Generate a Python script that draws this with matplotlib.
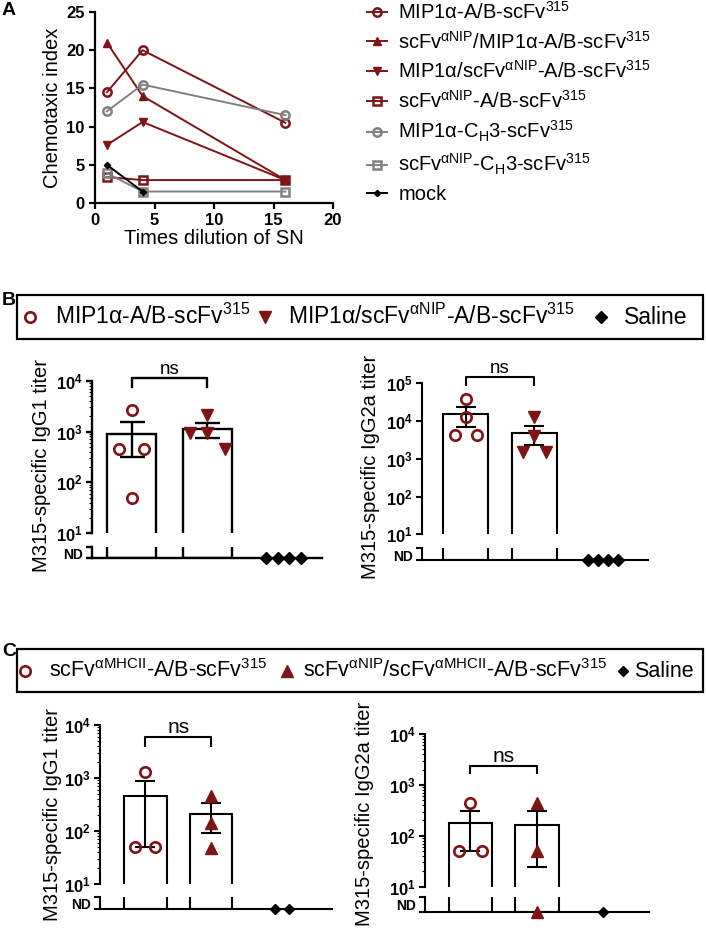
import numpy as np
import matplotlib
matplotlib.use('Agg')
import matplotlib.pyplot as plt
from matplotlib.lines import Line2D
from matplotlib.patches import Rectangle
from matplotlib.ticker import FixedLocator, FixedFormatter, LogLocator, NullFormatter
from matplotlib.transforms import ScaledTranslation

plt.rcParams['font.family'] = ['Liberation Sans', 'DejaVu Sans']
plt.rcParams['mathtext.fontset'] = 'custom'
plt.rcParams['mathtext.rm'] = 'Liberation Sans'
plt.rcParams['mathtext.it'] = 'Liberation Sans:italic'
plt.rcParams['mathtext.bf'] = 'Liberation Sans:bold'

# ---------------- data ----------------
# Panel A: chemotaxis
dilution = [1, 4, 16]
mip_ab = [14.5, 20.0, 10.5]
nip_mip_ab = [21.0, 14.0, 3.0]
mip_nip_ab = [7.6, 10.6, 3.0]
nip_ab = [3.4, 3.0, 3.0]
mip_ch3 = [12.0, 15.5, 11.5]
nip_ch3 = [3.9, 1.5, 1.5]
mock_dilution = [1, 4]
mock = [5.0, 1.5]
a_labels = [r'MIP1α-A/B-scFv$^{315}$',
            r'scFv$^{\mathrm{αNIP}}$/MIP1α-A/B-scFv$^{315}$',
            r'MIP1α/scFv$^{\mathrm{αNIP}}$-A/B-scFv$^{315}$',
            r'scFv$^{\mathrm{αNIP}}$-A/B-scFv$^{315}$',
            r'MIP1α-C$_{\mathrm{H}}$3-scFv$^{315}$',
            r'scFv$^{\mathrm{αNIP}}$-C$_{\mathrm{H}}$3-scFv$^{315}$',
            'mock']
a_xticks = [0, 5, 10, 15, 20]
a_yticks = [0, 5, 10, 15, 20, 25]

# Panel B (0 = not detected, ND)
b_groups = [r'MIP1α-A/B-scFv$^{315}$',
            r'MIP1α/scFv$^{\mathrm{αNIP}}$-A/B-scFv$^{315}$',
            'Saline']
b_igg1_mip = [2700, 450, 450, 50]
b_igg1_mipnip = [2100, 950, 950, 450]
b_igg1_saline = [0, 0, 0, 0]
b_igg2a_mip = [39000, 13000, 4200, 4200]
b_igg2a_mipnip = [12500, 4000, 1500, 1500]
b_igg2a_saline = [0, 0, 0, 0]

# Panel C (0 = not detected, ND)
c_groups = [r'scFv$^{\mathrm{αMHCII}}$-A/B-scFv$^{315}$',
            r'scFv$^{\mathrm{αNIP}}$/scFv$^{\mathrm{αMHCII}}$-A/B-scFv$^{315}$',
            'Saline']
c_igg1_mhc = [1300, 50, 50]
c_igg1_nipmhc = [450, 140, 48]
c_igg1_saline = [0, 0]
c_igg2a_mhc = [440, 50, 50]
c_igg2a_nipmhc = [440, 50, 0]
c_igg2a_saline = [0]

ylabel_igg1 = 'M315-specific IgG1 titer'
ylabel_igg2a = 'M315-specific IgG2a titer'

# ---------------- layout helpers ----------------
W, H, DPI = 706, 930, 100
DR = '#7e1416'
GR = '#808080'
fig = plt.figure(figsize=(W / DPI, H / DPI), dpi=DPI)


def px_axes(l, t, r, b):
    return fig.add_axes([l / W, 1 - b / H, (r - l) / W, (b - t) / H])


def fx(x):
    return x / W


def fy(y):
    return 1 - y / H


# ---------------- Panel A ----------------
axA = px_axes(95, 12, 333, 203)
lwA = 1.4
hA = []
hA += axA.plot(dilution, mip_ab, color=DR, lw=lwA, marker='o', ms=6, mfc='none', mec=DR, mew=1.8)
hA += axA.plot(dilution, nip_mip_ab, color=DR, lw=lwA, marker='^', ms=5.5, mfc=DR, mec=DR)
hA += axA.plot(dilution, mip_nip_ab, color=DR, lw=lwA, marker='v', ms=5.5, mfc=DR, mec=DR)
hA += axA.plot(dilution, nip_ab, color=DR, lw=lwA, marker='s', ms=5.5, mfc='none', mec=DR, mew=1.8)
hA += axA.plot(dilution, mip_ch3, color=GR, lw=lwA, marker='o', ms=6, mfc='none', mec=GR, mew=1.8)
hA += axA.plot(dilution, nip_ch3, color=GR, lw=lwA, marker='s', ms=5.5, mfc='none', mec=GR, mew=1.8)
hA += axA.plot(mock_dilution, mock, color='black', lw=lwA, marker='D', ms=3.2, mfc='black', mec='black')
axA.set_xlim(0, 20)
axA.set_ylim(0, 25)
axA.set_xticks(a_xticks)
axA.set_yticks(a_yticks)
for s in ['top', 'right']:
    axA.spines[s].set_visible(False)
for s in ['left', 'bottom']:
    axA.spines[s].set_linewidth(1.6)
axA.tick_params(width=1.6, length=4, labelsize=12)
for lab in axA.get_xticklabels() + axA.get_yticklabels():
    lab.set_fontweight('bold')
fig.text(fx(214), fy(238), 'Times dilution of SN', ha='center', va='center', fontsize=14.5)
fig.text(fx(53), fy(108), 'Chemotaxic index', ha='center', va='center', rotation=90, fontsize=14.5)
axA.legend(hA, a_labels, loc='upper left', bbox_to_anchor=(fx(366), fy(0)),
           bbox_transform=fig.transFigure, frameon=False, fontsize=14.5,
           handlelength=1.0, handletextpad=0.55, labelspacing=0.38,
           borderpad=0.05, borderaxespad=0, numpoints=1)

# ---------------- titer panels ----------------
circ = dict(marker='o', ms=7.5, mfc='none', mec=DR, mew=1.9)
tri_dn = dict(marker='v', ms=8.5, mfc=DR, mec=DR)
tri_up = dict(marker='^', ms=8.5, mfc=DR, mec=DR)
dia = dict(marker='D', ms=6.2, mfc='black', mec='black')
dia_s = dict(marker='D', ms=4.8, mfc='black', mec='black')


def titer_panel(upper, lower, ytop, values, offsets, styles, xlim, width, lw,
                capsize, bracket, ns_fs, ylabel, ylabel_xy, ylabel_fs):
    axu = px_axes(*upper)
    axl = px_axes(*lower)
    cats = np.arange(len(values))
    means = [np.mean(v) for v in values[:2]]
    sems = [np.std(v, ddof=1) / np.sqrt(len(v)) for v in values[:2]]

    axu.set_yscale('log')
    axu.set_xlim(*xlim)
    axu.set_ylim(10, ytop)
    axu.bar(cats[:2], [m - 1 for m in means], bottom=1, width=width,
            facecolor='none', edgecolor='black', linewidth=lw, zorder=2)
    axu.errorbar(cats[:2], means, yerr=sems, fmt='none', ecolor='black',
                 elinewidth=lw, capsize=capsize, capthick=lw, zorder=3)

    axl.set_xlim(*xlim)
    axl.set_ylim(0, 1)
    axl.bar(cats[:2], 2, width=width, fill=False, edgecolor='black', linewidth=lw, zorder=2)

    for i, (v, off, st) in enumerate(zip(values, offsets, styles)):
        v = np.asarray(v, float)
        x = cats[i] + np.asarray(off, float)
        det = v > 0
        if det.any():
            axu.plot(x[det], v[det], ls='none', clip_on=False, zorder=4, **st)
        if (~det).any():
            axl.plot(x[~det], np.zeros((~det).sum()), ls='none', clip_on=False, zorder=4, **st)

    # upper axis styling
    for s in ['top', 'right', 'bottom']:
        axu.spines[s].set_visible(False)
    axu.spines['left'].set_linewidth(lw)
    axu.set_xticks([])
    decs = [10 ** k for k in range(1, int(round(np.log10(ytop))) + 1)]
    axu.yaxis.set_major_locator(FixedLocator(decs))
    axu.yaxis.set_major_formatter(FixedFormatter(
        [r'$\mathbf{10^{%d}}$' % int(round(np.log10(d))) for d in decs]))
    axu.yaxis.set_minor_locator(LogLocator(base=10, subs=np.arange(2, 10)))
    axu.yaxis.set_minor_formatter(NullFormatter())
    axu.tick_params(axis='y', which='major', width=lw, length=4.5, labelsize=12, pad=2)
    axu.tick_params(axis='y', which='minor', width=0.8, length=2)

    # lower (ND) axis styling
    for s in ['top', 'right']:
        axl.spines[s].set_visible(False)
    axl.spines['left'].set_linewidth(lw)
    axl.spines['bottom'].set_linewidth(lw)
    axl.set_xticks([])
    axl.set_yticks([0, 1])
    axl.set_yticklabels(['', 'ND'])
    axl.tick_params(axis='y', width=lw, length=4.5, labelsize=10, pad=2)
    for lab in axl.get_yticklabels():
        lab.set_fontweight('bold')
        lab.set_transform(lab.get_transform() + ScaledTranslation(0, -5 / 72, fig.dpi_scale_trans))

    # significance bracket
    b_low, b_high = bracket
    axu.plot([0, 0, 1, 1], [b_low, b_high, b_high, b_low], color='black', lw=lw, clip_on=False)
    axu.annotate('ns', xy=(0.5, b_high), xytext=(0, 3), textcoords='offset points',
                 ha='center', va='baseline', fontsize=ns_fs, annotation_clip=False)

    fig.text(fx(ylabel_xy[0]), fy(ylabel_xy[1]), ylabel, ha='center', va='center',
             rotation=90, fontsize=ylabel_fs)
    return axu, axl


def legend_box(styles, labels, box, x_marks, x_texts, fs):
    l, t, r, b = box
    fig.add_artist(Rectangle((fx(l), fy(b)), (r - l) / W, (b - t) / H,
                             transform=fig.transFigure, fill=False, lw=1.6, ec='black'))
    yc = (t + b) / 2
    for st, lab, xm, xt in zip(styles, labels, x_marks, x_texts):
        fig.add_artist(Line2D([fx(xm)], [fy(yc)], transform=fig.transFigure, ls='none', **st))
        fig.text(fx(xt), fy(yc + 6.5), lab, ha='left', va='baseline', fontsize=fs)


# ---------------- Panel B ----------------
fig.text(fx(2), fy(292), 'B', fontsize=14, fontweight='bold', ha='left', va='top')
legend_box([circ, tri_dn, dia], b_groups, (17, 295, 703, 339),
           [30, 265, 601], [55, 288, 624], 16.5)

titer_panel((91.7, 380.7, 322, 533.3), (91.7, 546.7, 322, 558.3), 1e4,
            [b_igg1_mip, b_igg1_mipnip, b_igg1_saline],
            [[0, -0.17, 0.17, 0], [0, -0.23, 0, 0.23], [-0.23, -0.077, 0.077, 0.23]],
            [circ, tri_dn, dia], (-0.524, 2.507), 0.645, 1.7, 9,
            (7.5e3, 1.13e4), 13.5, ylabel_igg1, (42, 465), 14.5)

titer_panel((421.7, 383.3, 648.3, 534.3), (421.7, 548.3, 648.3, 560), 1e5,
            [b_igg2a_mip, b_igg2a_mipnip, b_igg2a_saline],
            [[0, 0, -0.16, 0.16], [0, 0, -0.17, 0.17], [-0.22, -0.073, 0.073, 0.22]],
            [circ, tri_dn, dia], (-0.645, 2.668), 0.66, 1.5, 7.2,
            (9e4, 1.44e5), 13.5, ylabel_igg2a, (370, 467), 14.5)

# ---------------- Panel C ----------------
fig.text(fx(2), fy(643), 'C', fontsize=14, fontweight='bold', ha='left', va='top')
legend_box([circ, tri_up, dia_s], c_groups, (17, 649, 703, 692),
           [25, 287, 623], [49, 303, 634], 15.5)

titer_panel((100, 725, 331.7, 884), (100, 896.7, 331.7, 909.3), 1e4,
            [c_igg1_mhc, c_igg1_nipmhc, c_igg1_saline],
            [[0, -0.15, 0.15], [0, 0, 0], [-0.03, 0.18]],
            [circ, tri_up, dia_s], (-0.687, 2.83), 0.645, 1.5, 7.2,
            (4000, 6000), 15, ylabel_igg1, (53, 814), 14.5)

titer_panel((425, 734, 649.3, 886.7), (425, 897.3, 649.3, 911.7), 1e4,
            [c_igg2a_mhc, c_igg2a_nipmhc, c_igg2a_saline],
            [[0, -0.17, 0.17], [0, 0, 0], [0]],
            [circ, tri_up, dia_s], (-0.687, 2.70), 0.66, 1.5, 7.2,
            (1690, 2380), 15, ylabel_igg2a, (365, 814), 14.5)

fig.text(fx(2), fy(2), 'A', fontsize=14, fontweight='bold', ha='left', va='top')

fig.savefig('out.png', dpi=DPI)
